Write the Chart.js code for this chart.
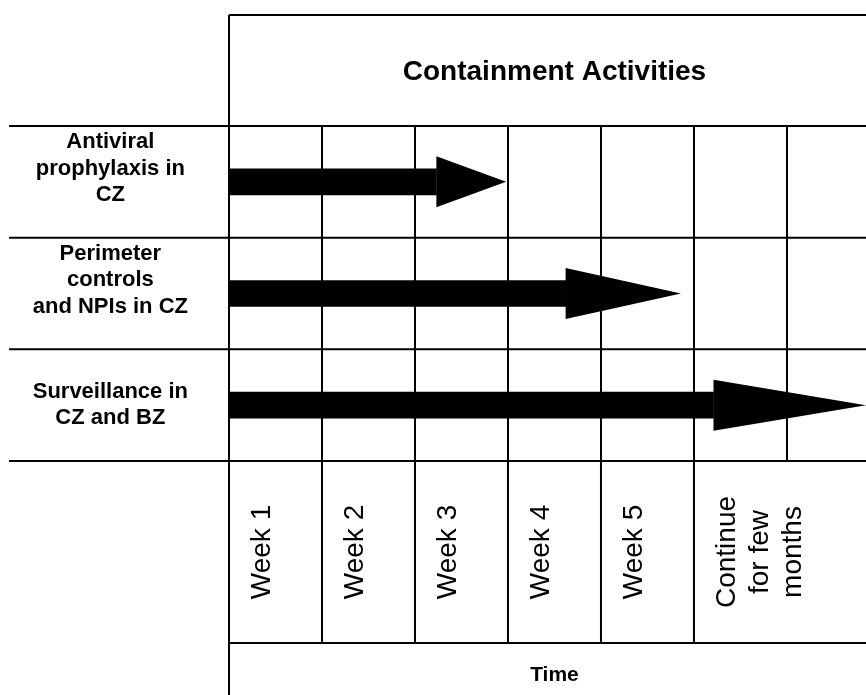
<!DOCTYPE html>
<html lang="en">
<head>
<meta charset="UTF-8">
<title>Containment Activities</title>
<script src="https://cdn.jsdelivr.net/npm/chart.js@4.4.1/dist/chart.umd.min.js"></script>
<style>
    html, body {margin: 0; padding: 0; background: #fff;}
    #wrap {width: 866px; height: 695px;}
</style>
</head>
<body>
<div id="wrap"><canvas id="chart" width="866" height="695"></canvas></div>
<script>
    // row labels (blank last line lifts the 3-line labels a bit like the original)
    const activities = [
        ['Antiviral', 'prophylaxis in', 'CZ', ''],
        ['Perimeter', 'controls', 'and NPIs in CZ', ''],
        ['Surveillance in', 'CZ and BZ']
    ];
    // in weeks from the start: where the arrow head begins, where its tip is
    const headStart = [2.23, 3.62, 5.21];
    const arrowEnd = [2.98, 4.86, 6.85];
    // time columns, each starts one week after the previous
    const periods = [['Week 1'], ['Week 2'], ['Week 3'], ['Week 4'], ['Week 5'], ['Continue', 'for few', 'months']];
    const chartTitle = 'Containment Activities';
    const axisTitle = 'Time';

    const family = '"Liberation Sans", Arial, sans-serif';

    const tablePlugin = {
        id: 'table',
        afterDatasetsDraw(chart) {
            const {ctx, scales: {x}} = chart;
            const meta = chart.getDatasetMeta(0);
            ctx.save();
            ctx.fillStyle = '#000';
            meta.data.forEach((bar, i) => {
                const x0 = x.getPixelForValue(headStart[i]);
                const x1 = x.getPixelForValue(arrowEnd[i]);
                ctx.beginPath();
                ctx.moveTo(x0, bar.y - 25.5);
                ctx.lineTo(x1, bar.y);
                ctx.lineTo(x0, bar.y + 25.5);
                ctx.closePath();
                ctx.fill();
            });
            ctx.restore();
        },
        afterDraw(chart) {
            const {ctx, scales: {x, y}, chartArea: ca, width, height} = chart;
            const half = (y.getPixelForValue(1) - y.getPixelForValue(0)) / 2;
            const top = 15, bottom = 643;

            ctx.save();
            ctx.strokeStyle = '#000';
            ctx.lineWidth = 2;
            ctx.beginPath();
            ctx.moveTo(ca.left, top); ctx.lineTo(width, top);
            ctx.moveTo(ca.left, top); ctx.lineTo(ca.left, height);
            for (let i = 0; i <= activities.length; i++) {
                const yy = y.getPixelForValue(0) - half + i * 2 * half;
                ctx.moveTo(9, yy); ctx.lineTo(width, yy);
            }
            for (let i = 1; i < periods.length; i++) {
                const xx = x.getPixelForValue(i);
                ctx.moveTo(xx, ca.bottom); ctx.lineTo(xx, bottom);
            }
            ctx.moveTo(ca.left, bottom); ctx.lineTo(width, bottom);
            ctx.stroke();

            ctx.fillStyle = '#000';
            ctx.textAlign = 'center';
            ctx.textBaseline = 'alphabetic';
            const mid = x.getPixelForValue(3.5);
            ctx.font = 'bold 28px ' + family;
            ctx.fillText(chartTitle, mid, 80);
            ctx.font = 'bold 21px ' + family;
            ctx.fillText(axisTitle, mid, 681);

            ctx.font = '28px ' + family;
            periods.forEach((lines, i) => {
                const left = x.getPixelForValue(i);
                lines.forEach((line, k) => {
                    ctx.save();
                    ctx.translate(left + 41 + k * 33, 552);
                    ctx.rotate(-Math.PI / 2);
                    ctx.fillText(line, 0, 0);
                    ctx.restore();
                });
            });
            ctx.restore();
        }
    };

    new Chart(document.getElementById('chart'), {
        type: 'bar',
        data: {
            labels: activities,
            datasets: [{
                data: headStart.map(v => [0, v]),
                backgroundColor: '#000',
                barThickness: 26
            }]
        },
        options: {
            indexAxis: 'y',
            responsive: false,
            animation: false,
            layout: {padding: {top: 126, bottom: 234, left: 0, right: 0}},
            plugins: {
                legend: {display: false},
                tooltip: {enabled: false}
            },
            scales: {
                x: {
                    type: 'linear',
                    min: 0,
                    max: 6.85,
                    ticks: {display: false, stepSize: 1, includeBounds: false},
                    grid: {color: '#000', lineWidth: 2, drawTicks: false},
                    border: {display: false},
                    afterFit: s => { s.height = 0; }
                },
                y: {
                    ticks: {
                        color: '#000',
                        font: {family: family, size: 22, weight: 'bold'},
                        crossAlign: 'center',
                        padding: 33
                    },
                    grid: {display: false},
                    border: {display: false},
                    afterFit: s => { s.width = 229; }
                }
            }
        },
        plugins: [tablePlugin]
    });
</script>
</body>
</html>
